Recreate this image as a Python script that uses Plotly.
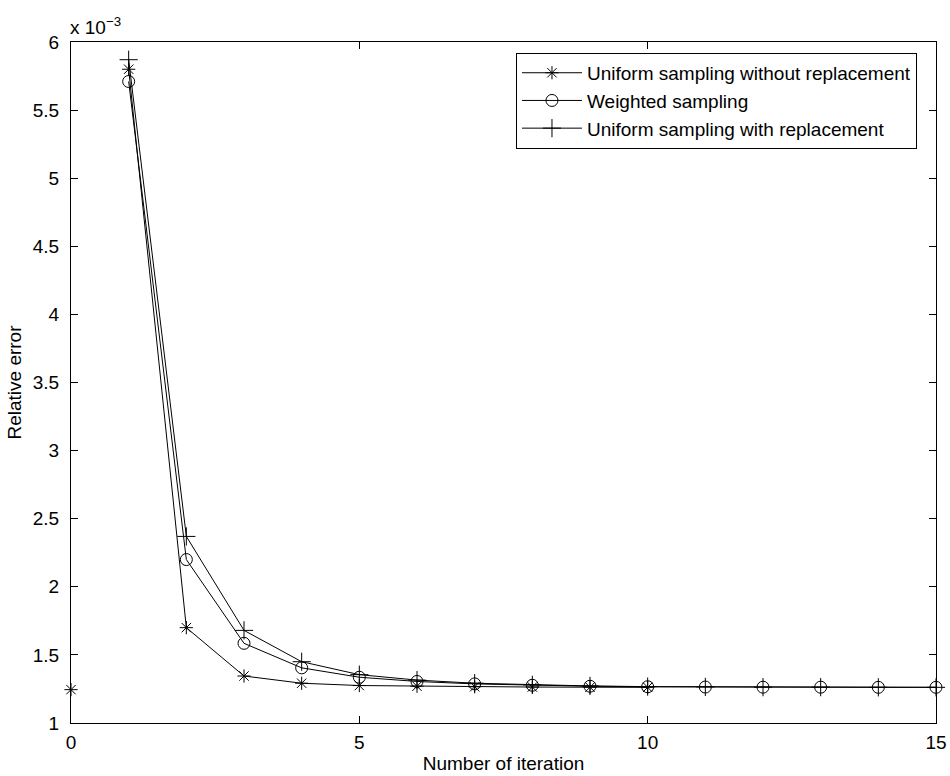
import plotly.graph_objects as go

# Data (values in units of 1e-3)
x_start = [0]
y_start = [1.245]

x_wo = [1, 2, 3, 4, 5, 6, 7, 8, 9, 10]
y_wo = [5.80, 1.70, 1.345, 1.292, 1.275, 1.270, 1.266, 1.264, 1.263, 1.262]

x_w = list(range(1, 16))
y_w = [5.71, 2.20, 1.585, 1.405, 1.336, 1.305, 1.287, 1.277, 1.270, 1.266, 1.264, 1.263, 1.263, 1.262, 1.262]

x_r = list(range(1, 16))
y_r = [5.87, 2.37, 1.68, 1.45, 1.355, 1.315, 1.292, 1.280, 1.272, 1.267, 1.265, 1.263, 1.263, 1.262, 1.262]

names = ["Uniform sampling without replacement", "Weighted sampling", "Uniform sampling with replacement"]

FONT = "Liberation Sans, Arial, Helvetica, sans-serif"
FS = 19

star = dict(symbol="asterisk-open", size=11, color="black", line=dict(color="black", width=1))

fig = go.Figure()
fig.add_trace(go.Scatter(x=x_wo, y=y_wo, name=names[0], mode="lines+markers",
                         line=dict(color="black", width=1), marker=star, cliponaxis=False))
fig.add_trace(go.Scatter(x=x_w, y=y_w, name=names[1], mode="lines+markers",
                         line=dict(color="black", width=1),
                         marker=dict(symbol="circle-open", size=12, color="black",
                                     line=dict(color="black", width=1)),
                         cliponaxis=False))
fig.add_trace(go.Scatter(x=x_r, y=y_r, name=names[2], mode="lines+markers",
                         line=dict(color="black", width=1),
                         marker=dict(symbol="cross-thin-open", size=13, color="black",
                                     line=dict(color="black", width=1)),
                         cliponaxis=False))
fig.add_trace(go.Scatter(x=x_start, y=y_start, mode="markers", marker=star,
                         showlegend=False, cliponaxis=False))

axis_common = dict(showline=True, linecolor="black", linewidth=1, mirror="ticks",
                   ticks="inside", ticklen=7, tickcolor="black", tickwidth=1,
                   showgrid=False, zeroline=False, automargin=False,
                   tickfont=dict(family=FONT, size=FS, color="black"))

fig.update_xaxes(range=[0, 15], tickvals=[0, 5, 10, 15], ticklabelstandoff=2,
                 title=dict(text="Number of iteration", font=dict(family=FONT, size=FS, color="black"),
                            standoff=4),
                 **axis_common)
fig.update_yaxes(range=[1, 6], tickvals=[1, 1.5, 2, 2.5, 3, 3.5, 4, 4.5, 5, 5.5, 6],
                 ticktext=["1", "1.5", "2", "2.5", "3", "3.5", "4", "4.5", "5", "5.5", "6"],
                 ticklabelstandoff=7,
                 title=dict(text="Relative error", font=dict(family=FONT, size=FS, color="black"),
                            standoff=6),
                 **axis_common)

fig.add_annotation(text="x 10<sup>−3</sup>", xref="paper", yref="paper", x=0, y=1,
                   xanchor="left", yanchor="bottom", showarrow=False, yshift=2, xshift=-3,
                   font=dict(family=FONT, size=FS, color="black"))

fig.update_layout(
    width=950, height=776,
    margin=dict(l=71, r=14, t=42, b=53, autoexpand=False),
    paper_bgcolor="white", plot_bgcolor="white",
    font=dict(family=FONT, size=FS, color="black"),
    showlegend=True,
    legend=dict(x=0.978, y=0.984, xanchor="right", yanchor="top",
                bgcolor="white", bordercolor="black", borderwidth=1,
                font=dict(family=FONT, size=FS, color="black"),
                itemwidth=60, tracegroupgap=0),
)

fig.write_html("out.html", config={"displayModeBar": False},
               post_script="document.body.style.margin='0px';")
